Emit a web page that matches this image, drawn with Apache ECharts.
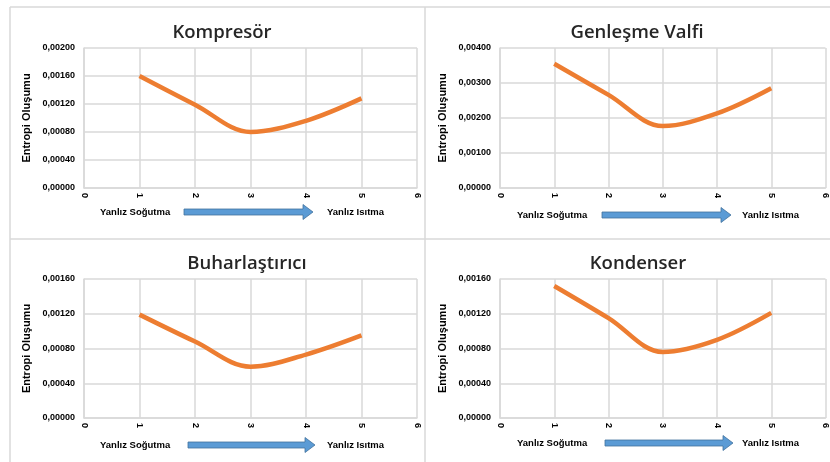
<!DOCTYPE html>
<html><head><meta charset="utf-8">
<script src="https://cdn.jsdelivr.net/npm/echarts@6/dist/echarts.min.js"></script>
<style>html,body{margin:0;padding:0;background:#fff}#c{width:830px;height:462px}</style>
</head><body><div id="c"></div>
<script>
var xValues = [1, 2, 3, 4, 5];
var titles = ['Kompresör', 'Genleşme Valfi', 'Buharlaştırıcı', 'Kondenser'];
var kompresor = [0.00160, 0.00119, 0.00080, 0.00096, 0.00128];
var genlesme = [0.00355, 0.00266, 0.00177, 0.00213, 0.00285];
var buharlastirici = [0.00119, 0.00088, 0.00059, 0.00073, 0.00095];
var kondenser = [0.00152, 0.00115, 0.00076, 0.00090, 0.00121];
var yMax = [0.0020, 0.0040, 0.0016, 0.0016];
var yStep = [0.0004, 0.0010, 0.0004, 0.0004];
var yName = 'Entropi Oluşumu';
var leftLabel = 'Yanlız Soğutma';
var rightLabel = 'Yanlız Isıtma';

var seriesData = [kompresor, genlesme, buharlastirici, kondenser];
var chart = echarts.init(document.getElementById('c'));
var GRID = '#d9d9d9';
var grids = [
  {left: 84, top: 48, width: 333, height: 140},
  {left: 500, top: 48, width: 333, height: 140},
  {left: 84, top: 279, width: 333, height: 139},
  {left: 500, top: 279, width: 333, height: 139}
];
var titleCfg = [
  {x: 217, y: 18}, {x: 632, y: 18}, {x: 242, y: 249}, {x: 633, y: 249}
];
var xAxes = [], yAxes = [], series = [], title = [];
for (var i = 0; i < 4; i++) {
  xAxes.push({
    type: 'value', gridIndex: i, min: 0, max: 6, interval: 1,
    axisLine: {show: true, lineStyle: {color: GRID, width: 1.5}},
    axisTick: {show: false},
    splitLine: {show: true, showMinLine: true, showMaxLine: true, lineStyle: {color: GRID, width: 1.5}},
    axisLabel: {rotate: -90, margin: 5, fontFamily: 'Liberation Sans', fontWeight: 'bold', fontSize: 9, color: '#000'}
  });
  yAxes.push({
    type: 'value', gridIndex: i, min: 0, max: yMax[i], interval: yStep[i],
    name: yName, nameLocation: 'middle', nameRotate: 90, nameGap: 52,
    nameTextStyle: {fontFamily: 'Liberation Sans', fontWeight: 'bold', fontSize: 11, color: '#000'},
    axisLine: {show: true, lineStyle: {color: GRID, width: 1.5}},
    axisTick: {show: false},
    splitLine: {show: true, showMinLine: true, showMaxLine: true, lineStyle: {color: GRID, width: 1.5}},
    axisLabel: {margin: 9, fontFamily: 'Liberation Sans', fontWeight: 'bold', fontSize: 9, color: '#000',
      formatter: function (v) { return v.toFixed(5).replace('.', ','); }}
  });
  series.push({
    type: 'line', xAxisIndex: i, yAxisIndex: i, smooth: 0.35, showSymbol: false,
    lineStyle: {color: '#ed7d31', width: 4.5}, itemStyle: {color: '#ed7d31'},
    data: xValues.map(function (x, k) { return [x, seriesData[i][k]]; })
  });
  title.push({
    text: titles[i], left: titleCfg[i].x, top: titleCfg[i].y, textAlign: 'center',
    textStyle: {fontFamily: 'Open Sans', fontSize: 18.5, fontWeight: 600, color: '#262626'}
  });
}

var graphic = [];
function line(x1, y1, x2, y2) {
  graphic.push({type: 'line', shape: {x1: x1, y1: y1, x2: x2, y2: y2}, style: {stroke: GRID, lineWidth: 1.5}, z: 100});
}
line(10, 7, 830, 7);
line(10, 7, 10, 462);
line(425, 7, 425, 462);
line(10, 239, 830, 239);

var captions = [
  {ly: 212, lx: 100, ax1: 184, ax2: 313, rx: 327},
  {ly: 215, lx: 517, ax1: 602, ax2: 731, rx: 742},
  {ly: 445, lx: 100, ax1: 188, ax2: 315, rx: 327},
  {ly: 443, lx: 517, ax1: 605, ax2: 733, rx: 742}
];
captions.forEach(function (c) {
  graphic.push({type: 'text', x: c.lx, y: c.ly, style: {text: leftLabel, fontFamily: 'Liberation Sans', fontWeight: 'bold', fontSize: 9.5, fill: '#000', verticalAlign: 'middle'}});
  graphic.push({type: 'text', x: c.rx, y: c.ly, style: {text: rightLabel, fontFamily: 'Liberation Sans', fontWeight: 'bold', fontSize: 9.5, fill: '#000', verticalAlign: 'middle'}});
  graphic.push({type: 'polygon', shape: {points: [
    [c.ax1, c.ly - 3], [c.ax2 - 10, c.ly - 3], [c.ax2 - 10, c.ly - 7.5], [c.ax2, c.ly],
    [c.ax2 - 10, c.ly + 7.5], [c.ax2 - 10, c.ly + 3], [c.ax1, c.ly + 3]
  ]}, style: {fill: '#5b9bd5', stroke: '#41719c', lineWidth: 0.8}});
});

chart.setOption({
  animation: false,
  title: title,
  grid: grids,
  xAxis: xAxes,
  yAxis: yAxes,
  series: series,
  graphic: graphic
});
</script></body></html>
